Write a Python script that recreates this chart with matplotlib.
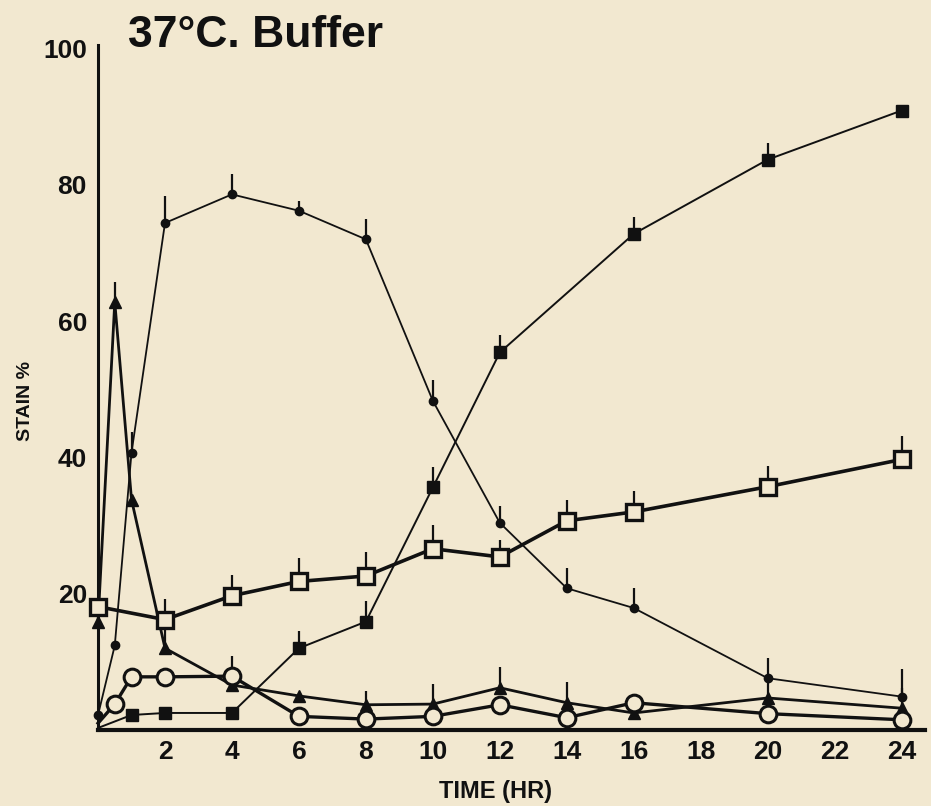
import matplotlib
matplotlib.use("Agg")
import matplotlib.pyplot as plt
import numpy as np

plt.rcParams['font.family'] = ['Liberation Sans', 'DejaVu Sans']

# ---- data ----
t_dot = [0, 0.5, 1, 2, 4, 6, 8, 10, 12, 14, 16, 20, 24]
v_dot = [2.2, 12.4, 40.7, 74.4, 78.6, 76.2, 72.0, 48.3, 30.4, 20.8, 17.9, 7.6, 4.9]
e_dot = [0, 0, 3, 4, 3, 1.5, 3, 3, 2.5, 3, 3, 3, 4]

t_tri = [0, 0.5, 1, 2, 4, 6, 8, 10, 12, 14, 16, 20, 24]
v_tri = [15.9, 62.8, 33.8, 12.0, 6.6, 5.0, 3.7, 3.8, 6.2, 4.0, 2.5, 4.7, 3.2]
e_tri = [0, 3, 0, 3, 1, 0, 2, 3, 3, 3, 0, 3, 3]

t_fsq = [0, 1, 2, 4, 6, 8, 10, 12, 16, 20, 24]
v_fsq = [0.3, 2.2, 2.5, 2.5, 12.0, 15.9, 35.6, 55.4, 72.8, 83.7, 90.9]
e_fsq = [0, 0, 0, 0, 2.5, 3, 3, 2.5, 2.5, 2.5, 0]

t_ocir = [0, 0.5, 1, 2, 4, 6, 8, 10, 12, 14, 16, 20, 24]
v_ocir = [1.0, 3.8, 7.8, 7.8, 7.9, 2.0, 1.6, 2.0, 3.7, 1.8, 4.0, 2.4, 1.5]
e_ocir = [0, 0, 0, 0, 3, 0, 0, 0, 0, 0, 0, 0, 0]

t_osq = [0, 2, 4, 6, 8, 10, 12, 14, 16, 20, 24]
v_osq = [18.1, 16.2, 19.7, 21.8, 22.6, 26.6, 25.4, 30.7, 32.0, 35.7, 39.7]
e_osq = [0, 3, 3, 3.5, 3.5, 3.5, 2.5, 3, 3, 3, 3.5]

xticks = [2, 4, 6, 8, 10, 12, 14, 16, 18, 20, 22, 24]
yticks = [20, 40, 60, 80, 100]

bg = '#f2e8d0'
ink = '#111111'

fig = plt.figure(figsize=(9.31, 8.06), dpi=100, facecolor=bg)
ax = fig.add_axes([0.1053, 0.0943, 0.8883, 0.8497], facecolor=bg)

def series(t, v, e, marker, ms, lw, mfc, mew, z, skip_first=False):
    t = np.array(t); v = np.array(v); e = np.array(e)
    ax.errorbar(t, v, yerr=[np.zeros_like(e), e], fmt='none', ecolor=ink,
                elinewidth=1.6, capsize=0, zorder=z - 0.5)
    me = list(range(1, len(t))) if skip_first else None
    ax.plot(t, v, color=ink, lw=lw, marker=marker, ms=ms, mfc=mfc,
            mec=ink, mew=mew, zorder=z, clip_on=False, markevery=me)

series(t_dot, v_dot, e_dot, 'o', 6, 1.3, ink, 1, 9)
series(t_tri, v_tri, e_tri, '^', 8, 2.0, ink, 1, 4)
series(t_fsq, v_fsq, e_fsq, 's', 8, 1.4, ink, 1, 6, skip_first=True)
series(t_ocir, v_ocir, e_ocir, 'o', 12, 2.4, bg, 2.2, 7, skip_first=True)
series(t_osq, v_osq, e_osq, 's', 11, 2.6, bg, 2.4, 8)

ax.set_xlim(0, 24.7)
ax.set_ylim(0, 100.5)
ax.set_xticks(xticks)
ax.set_yticks(yticks)
ax.tick_params(length=0, labelsize=19, colors=ink)
ax.tick_params(axis='x', pad=7)
ax.tick_params(axis='y', pad=8)
for lab in ax.get_xticklabels() + ax.get_yticklabels():
    lab.set_fontweight('bold')

for s in ['top', 'right']:
    ax.spines[s].set_visible(False)
ax.spines['left'].set_linewidth(2.2)
ax.spines['bottom'].set_linewidth(3.0)
ax.spines['left'].set_color(ink)
ax.spines['bottom'].set_color(ink)

fig.text(0.027, 0.502, 'STAIN %', rotation=90, ha='center', va='center',
         fontsize=14, fontweight='bold', color=ink)
fig.text(0.532, 0.018, 'TIME (HR)', ha='center', va='center',
         fontsize=17, fontweight='bold', color=ink)
fig.text(0.138, 0.942, '37°C. Buffer', ha='left', va='baseline',
         fontsize=32, fontweight='bold', color=ink)

fig.savefig('out.png', dpi=100, facecolor=bg)
